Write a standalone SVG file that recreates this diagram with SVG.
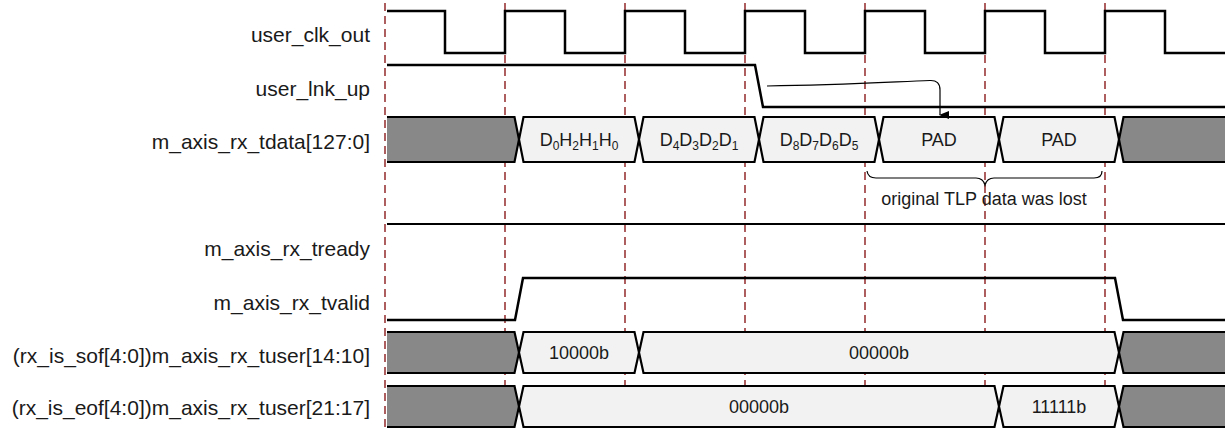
<svg xmlns="http://www.w3.org/2000/svg" width="1225" height="429" viewBox="0 0 1225 429">
<style>
.lbl{font-family:"Liberation Sans",Arial,Helvetica,sans-serif;font-size:21px;fill:#1a1a1a;text-anchor:end}
.val{font-family:"Liberation Sans",Arial,Helvetica,sans-serif;font-size:18px;fill:#1a1a1a;text-anchor:middle}
.sub{font-size:12px}
.grid{stroke:#8b1a1a;stroke-width:1.4;stroke-dasharray:8 5;fill:none}
.wave{stroke:#000;stroke-width:2.5;fill:none;stroke-linejoin:miter}
.bus{stroke:#000;stroke-width:2.2;stroke-linejoin:miter}
.dat{fill:#f2f2f2}
.xx{fill:#888888}
.thin{stroke:#000;stroke-width:1.2;fill:none}
</style>
<defs>
<marker id="ah" markerWidth="8" markerHeight="10" refX="4" refY="9" orient="auto" markerUnits="userSpaceOnUse" viewBox="0 0 8 10">
<path d="M0,0 L8,0 L4,10 Z" fill="#000"/>
</marker>
</defs>
<rect width="1225" height="429" fill="#fff"/>
<g id="grid">
<line class="grid" x1="385" y1="3" x2="385" y2="429"/>
<line class="grid" x1="505" y1="3" x2="505" y2="429"/>
<line class="grid" x1="625" y1="3" x2="625" y2="429"/>
<line class="grid" x1="745" y1="3" x2="745" y2="429"/>
<line class="grid" x1="865" y1="3" x2="865" y2="429"/>
<line class="grid" x1="985" y1="3" x2="985" y2="429"/>
<line class="grid" x1="1105" y1="3" x2="1105" y2="429"/>
</g>
<g id="labels">
<text class="lbl" x="370" y="42">user_clk_out</text>
<text class="lbl" x="370" y="96">user_lnk_up</text>
<text class="lbl" x="370" y="149">m_axis_rx_tdata[127:0]</text>
<text class="lbl" x="370" y="256">m_axis_rx_tready</text>
<text class="lbl" x="370" y="310">m_axis_rx_tvalid</text>
<text class="lbl" x="370" y="363">(rx_is_sof[4:0])m_axis_rx_tuser[14:10]</text>
<text class="lbl" x="370" y="415">(rx_is_eof[4:0])m_axis_rx_tuser[21:17]</text>
</g>
<g id="user_clk_out">
<path class="wave" d="M387,11 H445 V53 H505 V11 H565 V53 H625 V11 H685 V53 H745 V11 H805 V53 H865 V11 H925 V53 H985 V11 H1045 V53 H1105 V11 H1165 V53 H1225"/>
</g>
<g id="user_lnk_up">
<path class="wave" d="M387,65 H755 L763,107 H1225"/>
</g>
<g id="m_axis_rx_tdata">
<path class="xx" d="M387,117 H514.5 L519,139.5 L514.5,162 H387 Z"/>
<path class="bus" fill="none" d="M387,117 H514.5 L519,139.5 L514.5,162 H387"/>
<path class="bus dat" d="M523.5,117 H634.5 L639,139.5 L634.5,162 H523.5 L519,139.5 Z"/>
<path class="bus dat" d="M643.5,117 H754.5 L759,139.5 L754.5,162 H643.5 L639,139.5 Z"/>
<path class="bus dat" d="M763.5,117 H874.5 L879,139.5 L874.5,162 H763.5 L759,139.5 Z"/>
<path class="bus dat" d="M883.5,117 H994.5 L999,139.5 L994.5,162 H883.5 L879,139.5 Z"/>
<path class="bus dat" d="M1003.5,117 H1114.5 L1119,139.5 L1114.5,162 H1003.5 L999,139.5 Z"/>
<path class="xx" d="M1225,117 H1123.5 L1119,139.5 L1123.5,162 H1225 Z"/>
<path class="bus" fill="none" d="M1226,117 H1123.5 L1119,139.5 L1123.5,162 H1226"/>
<text class="val" x="579" y="146">D<tspan class="sub" dy="4">0</tspan><tspan dy="-4">H</tspan><tspan class="sub" dy="4">2</tspan><tspan dy="-4">H</tspan><tspan class="sub" dy="4">1</tspan><tspan dy="-4">H</tspan><tspan class="sub" dy="4">0</tspan></text>
<text class="val" x="699" y="146">D<tspan class="sub" dy="4">4</tspan><tspan dy="-4">D</tspan><tspan class="sub" dy="4">3</tspan><tspan dy="-4">D</tspan><tspan class="sub" dy="4">2</tspan><tspan dy="-4">D</tspan><tspan class="sub" dy="4">1</tspan></text>
<text class="val" x="819" y="146">D<tspan class="sub" dy="4">8</tspan><tspan dy="-4">D</tspan><tspan class="sub" dy="4">7</tspan><tspan dy="-4">D</tspan><tspan class="sub" dy="4">6</tspan><tspan dy="-4">D</tspan><tspan class="sub" dy="4">5</tspan></text>
<text class="val" x="939" y="146">PAD</text>
<text class="val" x="1059" y="146">PAD</text>
</g>
<g id="lost_note">
<path class="thin" d="M867,171 Q868,178 876,178 H976 Q983,178 985,185 Q987,178 994,178 H1094 Q1102,178 1102,171"/>
<text class="val" x="984" y="205">original TLP data was lost</text>
</g>
<g id="m_axis_rx_tready">
<path class="wave" style="stroke-width:2" d="M387,224 H1225"/>
</g>
<g id="m_axis_rx_tvalid">
<path class="wave" d="M387,320 H515 L523,278 H1115 L1123,320 H1225"/>
</g>
<g id="rx_is_sof">
<path class="xx" d="M387,332 H514.5 L519,352.5 L514.5,373 H387 Z"/>
<path class="bus" fill="none" d="M387,332 H514.5 L519,352.5 L514.5,373 H387"/>
<path class="bus dat" d="M523.5,332 H634.5 L639,352.5 L634.5,373 H523.5 L519,352.5 Z"/>
<path class="bus dat" d="M643.5,332 H1114.5 L1119,352.5 L1114.5,373 H643.5 L639,352.5 Z"/>
<path class="xx" d="M1225,332 H1123.5 L1119,352.5 L1123.5,373 H1225 Z"/>
<path class="bus" fill="none" d="M1226,332 H1123.5 L1119,352.5 L1123.5,373 H1226"/>
<text class="val" x="579" y="359">10000b</text>
<text class="val" x="879" y="359">00000b</text>
</g>
<g id="rx_is_eof">
<path class="xx" d="M387,386 H514.5 L519,406.5 L514.5,427 H387 Z"/>
<path class="bus" fill="none" d="M387,386 H514.5 L519,406.5 L514.5,427 H387"/>
<path class="bus dat" d="M523.5,386 H994.5 L999,406.5 L994.5,427 H523.5 L519,406.5 Z"/>
<path class="bus dat" d="M1003.5,386 H1114.5 L1119,406.5 L1114.5,427 H1003.5 L999,406.5 Z"/>
<path class="xx" d="M1225,386 H1123.5 L1119,406.5 L1123.5,427 H1225 Z"/>
<path class="bus" fill="none" d="M1226,386 H1123.5 L1119,406.5 L1123.5,427 H1226"/>
<text class="val" x="759" y="413">00000b</text>
<text class="val" x="1059" y="413">11111b</text>
</g>
<g id="connectors">
<path class="thin" marker-end="url(#ah)" d="M767,86 C840,85 890,82 930,80.5 Q940,80 940,90 L940,115"/>
</g>
</svg>
